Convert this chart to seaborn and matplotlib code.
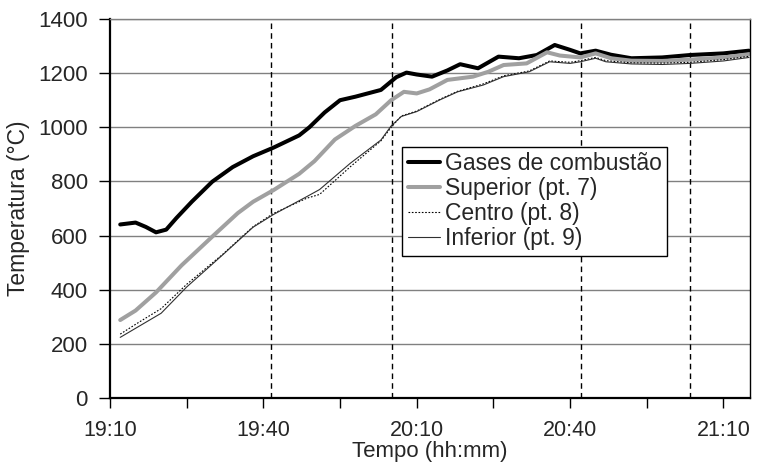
import matplotlib
matplotlib.use("Agg")
import matplotlib.pyplot as plt
import matplotlib.ticker as mticker
import seaborn as sns

# minutes after 19:10
gases_t = [2, 5, 7, 9, 11, 13, 16, 20, 24, 28, 32, 37, 39, 42, 45, 48, 53, 56, 58, 60,
           63, 66, 68.5, 72, 76, 80, 83.5, 87, 90, 92, 95, 98, 102, 108, 113.5, 120, 125]
gases_v = [641, 648, 632, 612, 622, 665, 725, 799, 853, 893, 925, 970, 1000, 1055, 1100,
           1113, 1138, 1185, 1202, 1195, 1187, 1210, 1233, 1218, 1261, 1255, 1267, 1304,
           1286, 1273, 1283, 1268, 1255, 1258, 1267, 1273, 1283]

sup_t = [2, 5, 9, 14, 20, 25, 28, 32, 37, 40, 44, 48, 52, 55, 57.5, 60, 62.5, 66, 71, 74,
         77, 81.5, 85.5, 88, 92, 95, 98, 102, 108, 113.5, 120, 125]
sup_v = [288, 323, 390, 490, 596, 683, 725, 768, 828, 875, 955, 1005, 1048, 1100, 1131,
         1125, 1140, 1175, 1187, 1205, 1230, 1236, 1277, 1265, 1258, 1273, 1255, 1246,
         1245, 1250, 1258, 1270]

low_t = [2, 5.5, 10, 15, 22, 28, 32, 38.5, 41, 47, 53, 55, 57, 60, 64.5, 68, 73, 77, 82,
         86, 90, 92, 95, 97, 102, 108, 113.5, 120, 125]
centro_v = [236, 278, 330, 420, 530, 633, 682, 738, 752, 854, 950, 1000, 1042, 1060, 1103,
            1133, 1160, 1190, 1208, 1245, 1240, 1246, 1258, 1246, 1238, 1237, 1240, 1250, 1262]
inferior_v = [224, 263, 313, 410, 528, 631, 678, 744, 770, 867, 953, 1005, 1040, 1058, 1101,
              1131, 1156, 1187, 1205, 1242, 1236, 1242, 1255, 1242, 1234, 1232, 1236, 1245, 1258]

vlines_t = [31.5, 55.1, 92.2, 113.5]

sns.set_style("white")
plt.rcParams['font.family'] = ['Liberation Sans', 'DejaVu Sans']

fig = plt.figure(figsize=(7.57, 4.68), dpi=100)
ax = fig.add_axes([110 / 757, 1 - 398 / 468, 640 / 757, 379 / 468])

ax.set_axisbelow(True)
ax.yaxis.grid(True, color='#808080', linewidth=1)
ax.xaxis.grid(False)

for t in vlines_t:
    ax.axvline(t, color='black', linewidth=1, linestyle=(0, (4, 3)), zorder=1)

sns.lineplot(x=gases_t, y=gases_v, ax=ax, color='black', linewidth=2.9,
             label='Gases de combustão')
sns.lineplot(x=sup_t, y=sup_v, ax=ax, color='#A0A0A0', linewidth=2.9,
             label='Superior (pt. 7)')
sns.lineplot(x=low_t, y=centro_v, ax=ax, color='black', linewidth=0.8,
             linestyle=(0, (1.5, 1.5)), label='Centro (pt. 8)')
sns.lineplot(x=low_t, y=inferior_v, ax=ax, color='#303030', linewidth=0.8,
             label='Inferior (pt. 9)')

ax.set_xlim(0, 125.2)
ax.set_ylim(0, 1400)
ax.set_yticks(range(0, 1401, 200))
ax.xaxis.set_major_locator(mticker.MultipleLocator(30))
ax.xaxis.set_minor_locator(mticker.MultipleLocator(15))


def hhmm(m, pos=None):
    total = 19 * 60 + 10 + int(round(m))
    return f"{total // 60}:{total % 60:02d}"


ax.xaxis.set_major_formatter(mticker.FuncFormatter(hhmm))
ax.tick_params(axis='x', which='both', direction='out', length=7, width=1,
               color='black', labelsize=15.5, pad=9, bottom=True)
ax.tick_params(axis='y', direction='out', length=8, width=1, color='black',
               labelsize=16, pad=8, left=True)

for side in ['left', 'bottom', 'right']:
    ax.spines[side].set_color('black')
ax.spines['left'].set_linewidth(1.6)
ax.spines['bottom'].set_linewidth(1.6)
ax.spines['right'].set_linewidth(1)
ax.spines['top'].set_color('#808080')
ax.spines['top'].set_linewidth(1)

ax.set_xlabel("Tempo (hh:mm)", fontsize=16, labelpad=0)
ax.set_ylabel("Temperatura (°C)", fontsize=16.5, labelpad=6)

leg = ax.legend(loc='upper left', bbox_to_anchor=(0.457, 0.663), borderaxespad=0,
                fontsize=16.5, frameon=True, fancybox=False, framealpha=1,
                edgecolor='black', handlelength=1.4, handletextpad=0.2,
                labelspacing=0.08, borderpad=0.25)
leg.get_frame().set_linewidth(1)

fig.savefig("out.png", dpi=100)
